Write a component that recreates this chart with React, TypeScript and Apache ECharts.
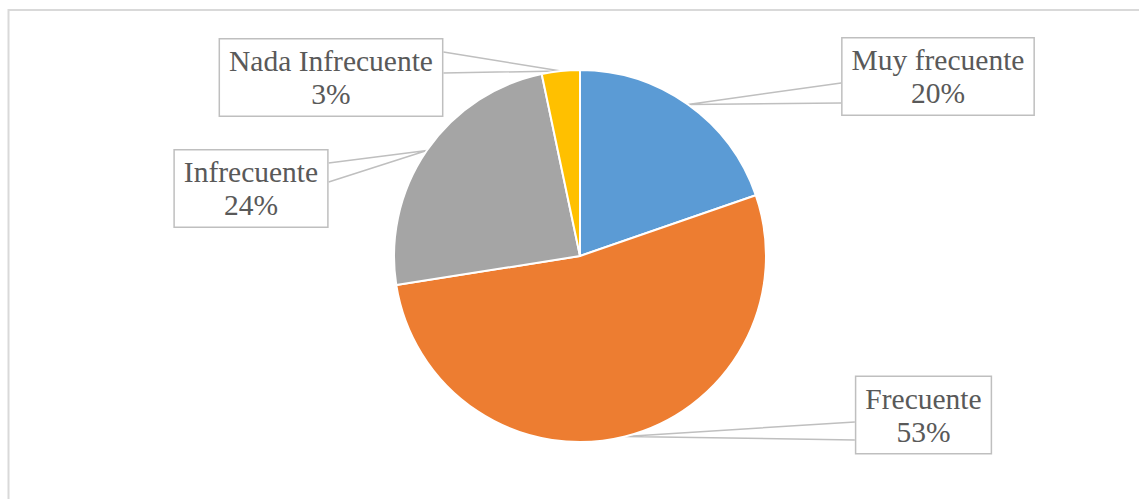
import React, { useEffect, useRef } from "react";
import * as echarts from "echarts";

const categories = ["Muy frecuente", "Frecuente", "Infrecuente", "Nada Infrecuente"];
const values = [19.7, 52.8, 24.2, 3.3];
const colors = ["#5B9BD5", "#ED7D31", "#A5A5A5", "#FFC000"];

// label box placement (center) and wedge attach points on the box edge
const labelPlacement = [
  { cx: 938, cy: 76.5, side: "left", wedge: [83, 103] },
  { cx: 923.5, cy: 415, side: "left", wedge: [422, 440] },
  { cx: 251, cy: 188.5, side: "right", wedge: [163, 182] },
  { cx: 331, cy: 77.5, side: "right", wedge: [52, 73] },
];

export default function App() {
  const ref = useRef<HTMLDivElement>(null);
  useEffect(() => {
    if (!ref.current) return;
    const chart = echarts.init(ref.current, null, { renderer: "svg" });
    const data = categories.map((name, i) => ({
      name,
      value: values[i],
      itemStyle: { color: colors[i] },
    }));
    chart.setOption({
      animation: false,
      backgroundColor: "#ffffff",
      graphic: [
        {
          type: "rect",
          shape: { x: 8.5, y: 10, width: 1300, height: 700 },
          style: { fill: "none", stroke: "#d9d9d9", lineWidth: 2 },
          silent: true,
        },
      ],
      series: [
        {
          type: "pie",
          center: [580, 256],
          radius: 186,
          startAngle: 90,
          clockwise: true,
          data,
          itemStyle: { borderColor: "#ffffff", borderWidth: 2 },
          label: {
            show: true,
            position: "outside",
            formatter: (p: any) => p.name + "\n" + Math.round(p.value) + "%",
            fontFamily: "'Liberation Serif', 'Times New Roman', serif",
            fontSize: 29.5,
            lineHeight: 33,
            color: "#595959",
            align: "center",
            backgroundColor: "#ffffff",
            borderColor: "#bfbfbf",
            borderWidth: 1.5,
            padding: [6, 9, 4, 9],
          },
          labelLine: {
            show: true,
            length: 20,
            length2: 20,
            lineStyle: { color: "#bfbfbf", width: 1.5 },
          },
          labelLayout: (params: any) => {
            const lp = labelPlacement[params.dataIndex];
            const w = params.labelRect.width;
            const edge = lp.side === "left" ? lp.cx - w / 2 : lp.cx + w / 2;
            const anchor = params.labelLinePoints ? params.labelLinePoints[0] : null;
            const res: any = {
              x: lp.cx,
              y: lp.cy,
              align: "center",
              verticalAlign: "middle",
            };
            if (anchor) {
              res.labelLinePoints = [
                [edge, lp.wedge[0]],
                [anchor[0], anchor[1]],
                [edge, lp.wedge[1]],
              ];
            }
            return res;
          },
        },
      ],
    });
    return () => chart.dispose();
  }, []);
  return (
    <div
      ref={ref}
      style={{ position: "fixed", left: 0, top: 0, width: 1139, height: 499 }}
    />
  );
}
